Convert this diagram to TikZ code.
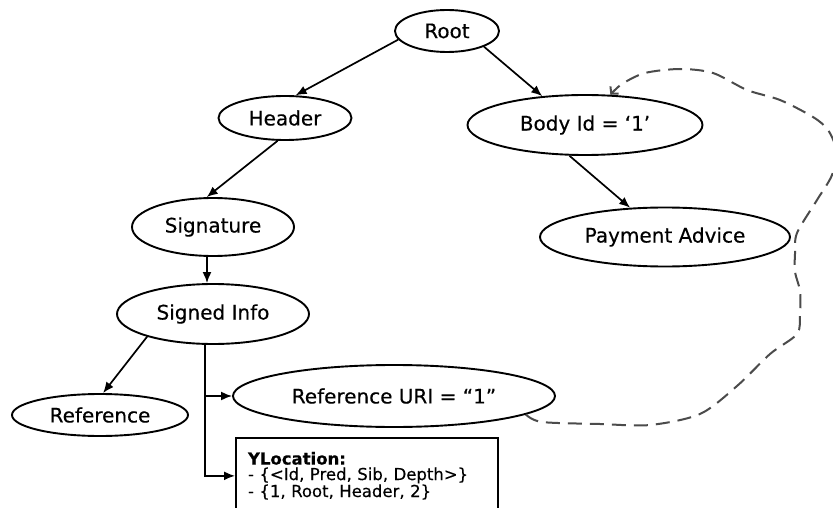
\documentclass[tikz,border=0pt]{standalone}
\usepackage{fontspec}
\setmainfont{DejaVu Sans}
\newfontfamily\treefont{DejaVu Sans}[FakeBold=0.4]
\usetikzlibrary{arrows.meta,shapes.geometric}
\definecolor{xpInk}{RGB}{0,0,0}
\definecolor{xpDash}{RGB}{75,75,75}
\tikzset{
  xmlnode/.style={ellipse,draw=xpInk,line width=1.9pt,inner sep=0pt,
    font=\treefont\fontsize{20}{24}\selectfont},
  treearrow/.style={draw=xpInk,line width=1.7pt,-{Latex[length=11pt,width=9pt]}},
  linkarrow/.style={draw=xpDash,line width=2pt,dash pattern=on 14pt off 8pt,
    -{Straight Barb[length=5pt,width=11pt]}}
}
\begin{document}
\begin{tikzpicture}[x=1pt,y=-1pt]
  \useasboundingbox (0,0) rectangle (833,508);
  \node[xmlnode,minimum width=104pt,minimum height=42pt] (root) at (447,31) {Root};
  \node[xmlnode,minimum width=133pt,minimum height=44pt] (header) at (285,118) {Header};
  \node[xmlnode,minimum width=235pt,minimum height=60pt] (body) at (585,125) {Body Id = ‘1’};
  \node[xmlnode,minimum width=250pt,minimum height=59pt] (advice) at (665,237) {Payment Advice};
  \node[xmlnode,minimum width=162pt,minimum height=58pt] (sig) at (213,227) {Signature};
  \node[xmlnode,minimum width=192pt,minimum height=60pt] (sinfo) at (213,314) {Signed Info};
  \node[xmlnode,minimum width=176pt,minimum height=42pt] (ref) at (100,415) {Reference};
  \node[xmlnode,minimum width=322pt,minimum height=62pt] (refuri) at (394,396) {Reference URI = “1”};
  \node[draw=xpInk,line width=2pt,anchor=north west,inner xsep=12pt,inner ysep=14pt,
    text width=238pt,align=left,font=\treefont\fontsize{16.5}{15.5}\selectfont] (yloc) at (235,437)
    {\textbf{YLocation:}\\- \{<Id, Pred, Sib, Depth>\}\\- \{1, Root, Header, 2\}};
  \coordinate (stem) at ([xshift=-8pt]sinfo.south);
  \draw[treearrow] (root.190) -- (header.65);
  \draw[treearrow] (root.337) -- (body.146);
  \draw[treearrow] (header.252) -- (sig.102);
  \draw[treearrow] (body.243) -- (advice.140);
  \draw[treearrow] ([xshift=-6pt]sig.south) -- ([xshift=-6pt]sinfo.north);
  \draw[treearrow] (sinfo.199) -- (ref.82);
  \draw[treearrow] (stem) |- (refuri.west);
  \draw[treearrow] (stem) |- (yloc.west);
  \draw[linkarrow] plot[smooth,tension=0.5] coordinates {(refuri.352) (542,422) (600,424)
    (650,425) (700,414) (737,386) (770,354) (797,334) (800,314) (800,291) (795,272)
    (795,254) (797,233) (817,200) (832,175) (836,150) (828,130) (813,117) (780,100)
    (747,90) (713,73) (680,69) (645,73) (622,84) (body.50)};
\end{tikzpicture}
\end{document}
